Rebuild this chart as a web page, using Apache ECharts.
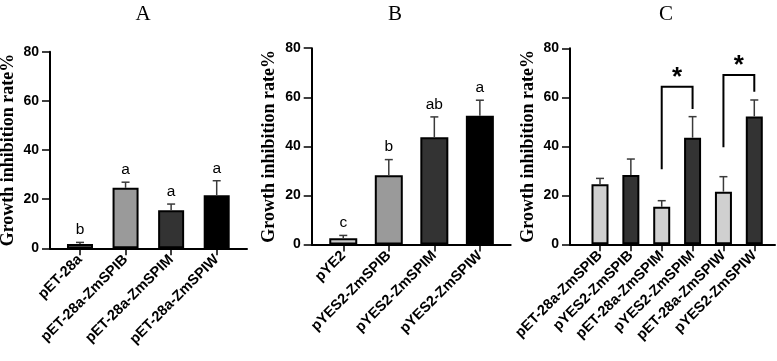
<!DOCTYPE html>
<html>
<head>
<meta charset="utf-8">
<script src="https://cdn.jsdelivr.net/npm/echarts@6/dist/echarts.min.js"></script>
<style>
    html, body { margin: 0; padding: 0; background: #fff; }
    #chart { width: 777px; height: 361px; }
</style>
</head>
<body>
<div id="chart"></div>
<script>
    // A: pET-28a constructs
    var catsA = ['pET-28a', 'pET-28a-ZmSPIB', 'pET-28a-ZmSPIM', 'pET-28a-ZmSPIW'];
    var meanA = [1.7, 24.6, 15.5, 21.6];
    var sdA = [0.7, 2.3, 2.5, 5.9];
    var lettersA = ['b', 'a', 'a', 'a'];

    // B: pYES2 constructs
    var catsB = ['pYE2', 'pYES2-ZmSPIB', 'pYES2-ZmSPIM', 'pYES2-ZmSPIW'];
    var meanB = [2.5, 28.2, 43.7, 52.5];
    var sdB = [1.2, 6.4, 8.3, 6.3];
    var lettersB = ['c', 'b', 'ab', 'a'];

    // C: side by side
    var catsC = ['pET-28a-ZmSPIB', 'pYES2-ZmSPIB', 'pET-28a-ZmSPIM', 'pYES2-ZmSPIM', 'pET-28a-ZmSPIW', 'pYES2-ZmSPIW'];
    var meanC = [24.5, 28.3, 15.3, 43.5, 21.5, 52.2];
    var sdC = [2.4, 6.5, 2.5, 8.6, 6.1, 6.7];

    // significance brackets in C
    var sigFrom = [2, 4];
    var sigTo = [3, 5];
    var sigFromLow = [30.6, 39.6];
    var sigToLow = [55.2, 62.3];
    var sigTop = [64.3, 69.1];
    var sigMark = ['*', '*'];

    var titles = ['A', 'B', 'C'];
    var yName = 'Growth inhibition rate%';

    var SANS = 'Liberation Sans, Arial, sans-serif';
    var SERIF = 'Liberation Serif, Times New Roman, serif';

    // layout per panel (px / axis extents)
    var panels = [
        {cats: catsA, mean: meanA, sd: sdA, letters: lettersA, colors: ['#ffffff', '#9a9a9a', '#333333', '#000000'],
            grid: {left: 50, top: 51.7, width: 197, height: 196.6}, xMin: -0.658, xMax: 3.665, barWidth: 26, titleX: 143},
        {cats: catsB, mean: meanB, sd: sdB, letters: lettersB, colors: ['#cccccc', '#9a9a9a', '#333333', '#000000'],
            grid: {left: 311.7, top: 48.2, width: 199, height: 196.3}, xMin: -0.693, xMax: 3.677, barWidth: 28, titleX: 395},
        {cats: catsC, mean: meanC, sd: sdC, letters: null, colors: ['#d0d0d0', '#333333', '#d0d0d0', '#333333', '#d0d0d0', '#333333'],
            grid: {left: 570, top: 48.3, width: 205, height: 196}, xMin: -0.972, xMax: 5.671, barWidth: 17, titleX: 666}
    ];

    var myChart = echarts.init(document.getElementById('chart'));

    var grids = [], xAxes = [], yAxes = [], series = [], graphics = [];

    panels.forEach(function (p, i) {
        var idx = p.cats.map(function (c, k) { return k; });
        grids.push(Object.assign({outerBoundsMode: 'none', containLabel: false}, p.grid));
        xAxes.push({
            gridIndex: i,
            type: 'value',
            min: p.xMin,
            max: p.xMax,
            axisLine: {show: true, onZero: false, lineStyle: {color: '#000', width: 2}},
            axisTick: {show: true, customValues: idx, length: 7, lineStyle: {color: '#000', width: 1.5}},
            axisLabel: {
                customValues: idx,
                formatter: function (v) { return p.cats[Math.round(v)]; },
                rotate: 45,
                margin: 9,
                color: '#000',
                fontFamily: SANS,
                fontWeight: 'bold',
                fontSize: 14.5
            },
            splitLine: {show: false}
        });
        yAxes.push({
            gridIndex: i,
            type: 'value',
            min: 0,
            max: 80,
            interval: 20,
            name: yName,
            nameLocation: 'middle',
            nameGap: 33,
            nameTextStyle: {fontFamily: SERIF, fontWeight: 'bold', fontSize: 18, color: '#000'},
            axisLine: {show: true, onZero: false, lineStyle: {color: '#000', width: 2}},
            axisTick: {show: true, length: 8, lineStyle: {color: '#000', width: 1.5}},
            axisLabel: {margin: 11, color: '#000', fontFamily: SANS, fontWeight: 'bold', fontSize: 14},
            splitLine: {show: false}
        });
        series.push({
            type: 'bar',
            xAxisIndex: i,
            yAxisIndex: i,
            barWidth: p.barWidth,
            itemStyle: {borderColor: '#000', borderWidth: 2},
            data: p.mean.map(function (v, k) {
                return {value: [k, v], itemStyle: {color: p.colors[k]}};
            }),
            z: 2
        });
        //误差线 + 显著性字母
        series.push({
            type: 'custom',
            xAxisIndex: i,
            yAxisIndex: i,
            data: p.mean.map(function (v, k) { return [k, v, p.sd[k]]; }),
            z: 3,
            renderItem: function (params, api) {
                var x = api.value(0), m = api.value(1), s = api.value(2);
                var p0 = api.coord([x, m]);
                var p1 = api.coord([x, m + s]);
                var children = [
                    {type: 'line', shape: {x1: p0[0], y1: p0[1], x2: p1[0], y2: p1[1]}, style: {stroke: '#3a3a3a', lineWidth: 1.5}},
                    {type: 'line', shape: {x1: p1[0] - 4, y1: p1[1], x2: p1[0] + 4, y2: p1[1]}, style: {stroke: '#3a3a3a', lineWidth: 1.5}}
                ];
                if (p.letters) {
                    children.push({
                        type: 'text',
                        x: p1[0],
                        y: p1[1] - 12.5,
                        style: {text: p.letters[params.dataIndex], fill: '#000', font: '15.5px ' + SANS, textAlign: 'center', textVerticalAlign: 'middle'}
                    });
                }
                return {type: 'group', children: children};
            }
        });
        graphics.push({
            type: 'text',
            x: p.titleX,
            y: 4,
            style: {text: titles[i], fill: '#000', font: '21px ' + SERIF, textAlign: 'center', textVerticalAlign: 'top'}
        });
    });

    // 显著性括号
    series.push({
        type: 'custom',
        xAxisIndex: 2,
        yAxisIndex: 2,
        data: sigFrom.map(function (f, k) { return [f, sigTo[k], sigFromLow[k], sigToLow[k], sigTop[k]]; }),
        z: 4,
        renderItem: function (params, api) {
            var a = api.coord([api.value(0), api.value(2)]);
            var at = api.coord([api.value(0), api.value(4)]);
            var bt = api.coord([api.value(1), api.value(4)]);
            var b = api.coord([api.value(1), api.value(3)]);
            return {
                type: 'group',
                children: [
                    {type: 'polyline', shape: {points: [a, at, bt, b]}, style: {stroke: '#000', lineWidth: 2, fill: null}},
                    {type: 'text', x: (at[0] + bt[0]) / 2, y: at[1] - 9,
                        style: {text: sigMark[params.dataIndex], fill: '#000', font: 'bold 26px ' + SANS, textAlign: 'center', textVerticalAlign: 'middle'}}
                ]
            };
        }
    });

    myChart.setOption({
        animation: false,
        grid: grids,
        xAxis: xAxes,
        yAxis: yAxes,
        series: series,
        graphic: graphics
    });
</script>
</body>
</html>
